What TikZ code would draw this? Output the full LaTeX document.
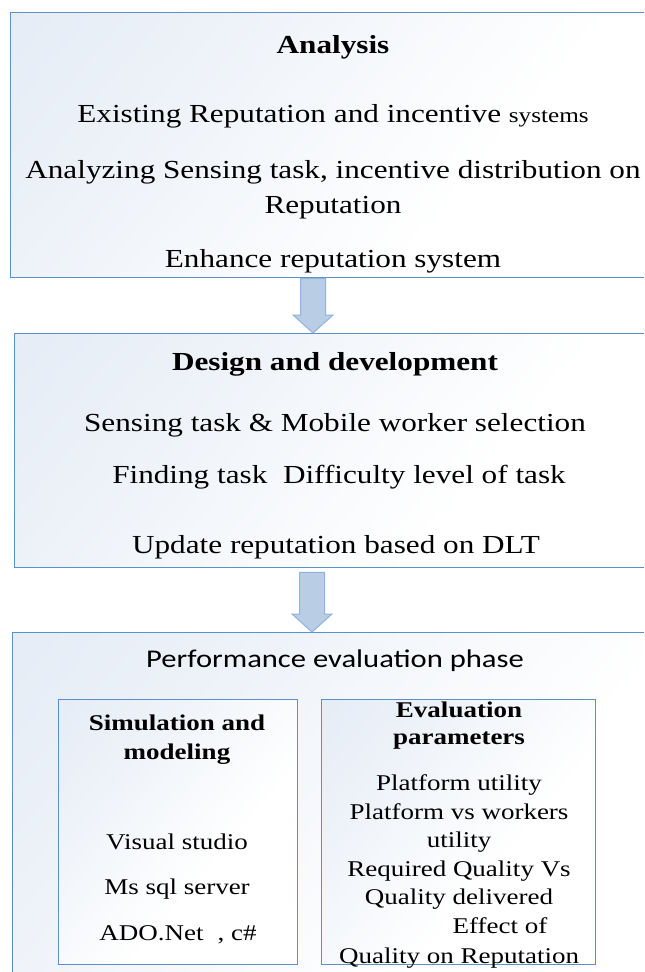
\documentclass[tikz,border=0pt]{standalone}
\usepackage{fontspec}
\setmainfont[FakeStretch=1.2]{Liberation Serif}
\newfontfamily\calib[FakeStretch=1.2]{Carlito}
\usetikzlibrary{calc}
\definecolor{bordercol}{RGB}{90,145,205}
\definecolor{fillA}{RGB}{222,231,243}
\definecolor{arrowfill}{RGB}{185,205,229}
\definecolor{arrowline}{RGB}{145,178,220}
\pgfdeclarehorizontalshading{cornershade}{100bp}{color(0bp)=(fillA); color(30bp)=(fillA!55!white); color(60bp)=(white); color(100bp)=(white)}
\tikzset{
  phasebox/.style={draw=bordercol, line width=1.3pt, shade, shading=cornershade, shading angle=-40, inner sep=0pt, anchor=north west},
  txt/.style={anchor=base, inner sep=0pt, font=\fontsize{26}{31}\selectfont},
  btitle/.style={anchor=base, inner sep=0pt, font=\fontsize{26}{31}\selectfont\bfseries},
  stxt/.style={anchor=base, inner sep=0pt, font=\fontsize{22.5}{27}\selectfont},
  sbtitle/.style={anchor=base, inner sep=0pt, font=\fontsize{22.5}{27}\selectfont\bfseries},
  ctitle/.style={anchor=base, inner sep=0pt, font=\calib\fontsize{25.5}{30}\selectfont},
  blockarrow/.style={draw=arrowline, fill=arrowfill, line width=1pt, line join=miter},
}
% #1 start, #2 end, #3 gap below start
\newcommand{\myblockarrow}[3]{%
  \draw[blockarrow] let \p1=(#1), \p2=(#2) in
    (\x1-12.5pt,\y1-#3) -- (\x1+12.5pt,\y1-#3) -- (\x1+12.5pt,\y2+18pt)
    -- (\x1+20pt,\y2+18pt) -- (\x2,\y2) -- (\x1-20pt,\y2+18pt)
    -- (\x1-12.5pt,\y2+18pt) -- cycle;}
\begin{document}
\begin{tikzpicture}[x=1pt,y=-1pt]
\fill[white] (0,0) rectangle (645,972);
\useasboundingbox (0,0) rectangle (645,972);
\clip (0,0) rectangle (645,972);

% Phase 1
\node[phasebox, minimum width=720, minimum height=265] (b1) at (10,12) {};
\node[btitle] (t1) at (333,53) {Analysis};
\node[txt] (l11) at (333,122) {Existing Reputation and incentive {\fontsize{21}{25}\selectfont systems}};
\node[txt] (l12) at (333,178) {Analyzing Sensing task, incentive distribution on};
\node[txt] (l13) at (333,213) {Reputation};
\node[txt] (l14) at (333,267) {Enhance reputation system};

% Phase 2
\node[phasebox, minimum width=720, minimum height=234] (b2) at (14,333) {};
\node[btitle] (t2) at (335,370) {Design and development};
\node[txt] (l21) at (335,431) {Sensing task \& Mobile worker selection};
\node[txt] (l22) at (339,483) {Finding task\ \ Difficulty level of task};
\node[txt] (l23) at (336,553) {Update reputation based on DLT};

% Phase 3
\node[phasebox, minimum width=720, minimum height=380] (b3) at (12,632) {};
\node[ctitle] (t3) at (335,667) {Performance evaluation phase};

\node[phasebox, minimum width=239, minimum height=265] (bA) at (58,699) {};
\node[sbtitle] (sA1) at (177,730) {Simulation and};
\node[sbtitle] (sA2) at (177,759) {modeling};
\node[stxt] (sA3) at (177,849) {Visual studio};
\node[stxt] (sA4) at (177,894) {Ms sql server};
\node[stxt] (sA5) at (178,940) {ADO.Net\hspace{14pt}, c\#};

\node[phasebox, minimum width=274, minimum height=265] (bB) at (321,699) {};
\node[sbtitle] (sB1) at (459,717) {Evaluation};
\node[sbtitle] (sB2) at (459,744) {parameters};
\node[stxt] (sB3) at (459,790) {Platform utility};
\node[stxt] (sB4) at (459,819) {Platform vs workers};
\node[stxt] (sB5) at (459,847) {utility};
\node[stxt] (sB6) at (459,876) {Required Quality Vs};
\node[stxt] (sB7) at (459,904) {Quality delivered};
\node[stxt] (sB8) at (500,933) {Effect of};
\node[stxt] (sB9) at (459,963) {Quality on Reputation};

% Arrows
\coordinate (ax1) at (313,0);
\coordinate (ax2) at (312,0);
\myblockarrow{b1.south -| ax1}{b2.north -| ax1}{0pt}
\myblockarrow{b2.south -| ax2}{b3.north -| ax2}{4pt}

% mask right page edge
\fill[white] (643.5,0) rectangle (646,972);
\end{tikzpicture}
\end{document}
